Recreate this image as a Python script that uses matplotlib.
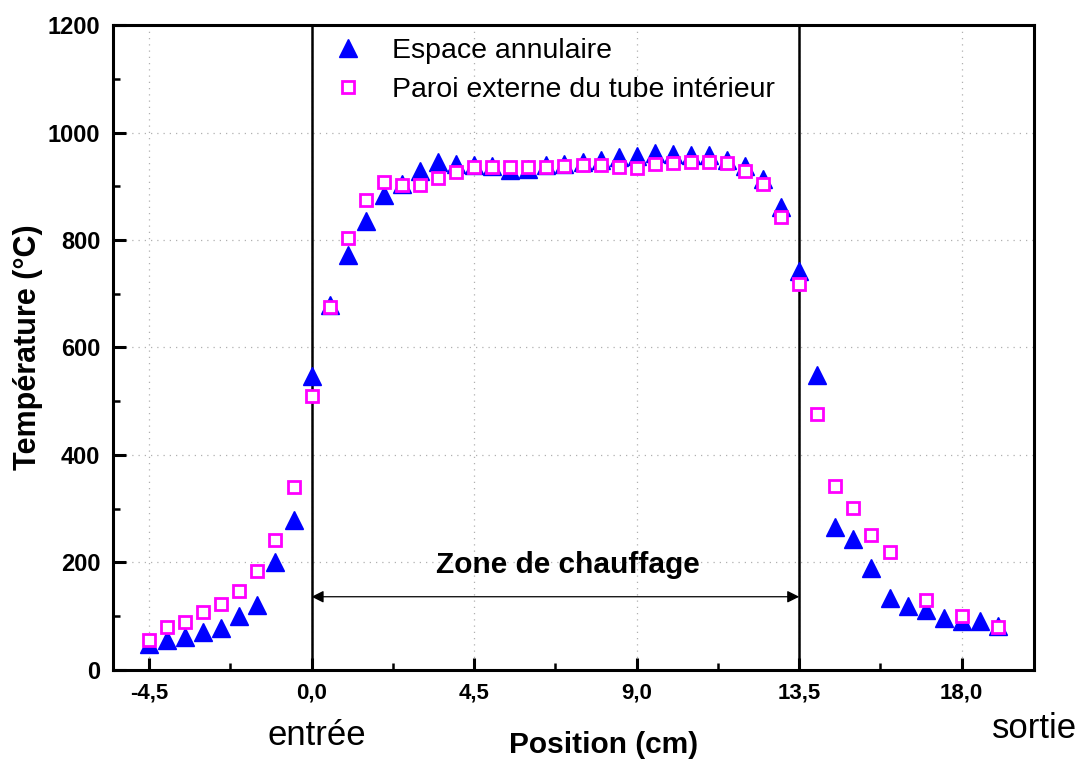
import numpy as np
import matplotlib.pyplot as plt
from matplotlib.ticker import MultipleLocator, FuncFormatter

plt.rcParams['font.family'] = ['Liberation Sans', 'DejaVu Sans']

# Espace annulaire (triangles)
pos_annulaire = [-4.5, -4.0, -3.5, -3.0, -2.5, -2.0, -1.5, -1.0, -0.5, 0.0,
                 0.5, 1.0, 1.5, 2.0, 2.5, 3.0, 3.5, 4.0, 4.5, 5.0, 5.5, 6.0,
                 6.5, 7.0, 7.5, 8.0, 8.5, 9.0, 9.5, 10.0, 10.5, 11.0, 11.5,
                 12.0, 12.5, 13.0, 13.5, 14.0, 14.5, 15.0, 15.5, 16.0, 16.5,
                 17.0, 17.5, 18.0, 18.5, 19.0]
temp_annulaire = [48, 55, 61, 70, 77, 101, 121, 200, 278, 547,
                  679, 773, 836, 883, 904, 928, 946, 941, 939, 937, 930, 932,
                  939, 942, 946, 949, 954, 956, 962, 961, 959, 958, 949,
                  938, 914, 862, 743, 548, 266, 243, 189, 133, 118,
                  112, 96, 90, 90, 81]

# Paroi externe du tube interieur (carres)
pos_paroi = [-4.5, -4.0, -3.5, -3.0, -2.5, -2.0, -1.5, -1.0, -0.5, 0.0,
             0.5, 1.0, 1.5, 2.0, 2.5, 3.0, 3.5, 4.0, 4.5, 5.0, 5.5, 6.0,
             6.5, 7.0, 7.5, 8.0, 8.5, 9.0, 9.5, 10.0, 10.5, 11.0, 11.5,
             12.0, 12.5, 13.0, 13.5, 14.0, 14.5, 15.0, 15.5, 16.0,
             17.0, 18.0, 19.0]
temp_paroi = [56, 79, 89, 107, 122, 146, 183, 241, 341, 510,
              675, 804, 874, 908, 903, 902, 915, 926, 936, 936, 936, 936,
              936, 938, 939, 939, 936, 935, 942, 944, 946, 946, 944,
              929, 905, 842, 719, 476, 343, 301, 251, 220,
              130, 101, 79]

zone_start, zone_end = 0.0, 13.5

fig = plt.figure(figsize=(10.81, 7.62), dpi=100)
ax = fig.add_axes([0.1045, 0.121, 0.852, 0.846])

ax.plot(pos_annulaire, temp_annulaire, linestyle='none', marker='^',
        markersize=13.5, color='#0000ff', label='Espace annulaire', zorder=3)
ax.plot(pos_paroi, temp_paroi, linestyle='none', marker='s',
        markersize=9, markerfacecolor='white', markeredgecolor='#ff00ff',
        markeredgewidth=2, label='Paroi externe du tube intérieur', zorder=4)

# limites de la zone de chauffage
ax.axvline(zone_start, color='black', lw=1.8, zorder=2)
ax.axvline(zone_end, color='black', lw=1.8, zorder=2)
ax.annotate('', xy=(zone_start, 136), xytext=(zone_end, 136),
            arrowprops=dict(arrowstyle='<|-|>', color='black', lw=0.9,
                            mutation_scale=18, shrinkA=0, shrinkB=0))
ax.text(7.1, 195, 'Zone de chauffage', ha='center', va='center',
        fontsize=21.5, fontweight='bold')

ax.set_xlim(-5.5, 20)
ax.set_ylim(0, 1200)
ax.xaxis.set_major_locator(MultipleLocator(4.5))
ax.xaxis.set_minor_locator(MultipleLocator(2.25))
ax.yaxis.set_major_locator(MultipleLocator(200))
ax.yaxis.set_minor_locator(MultipleLocator(100))
ax.xaxis.set_major_formatter(FuncFormatter(lambda v, p: f'{v:.1f}'.replace('.', ',')))

ax.grid(True, which='major', linestyle=(0, (1, 4)), color='#b0b0b0', lw=0.9)
ax.tick_params(which='major', direction='in', length=9, width=2.2, pad=9)
ax.tick_params(axis='x', labelsize=16)
ax.tick_params(axis='y', labelsize=17)
ax.tick_params(which='minor', direction='in', length=5, width=1.8)
for lab in ax.get_xticklabels() + ax.get_yticklabels():
    lab.set_fontweight('bold')
for sp in ax.spines.values():
    sp.set_linewidth(2.2)

ax.set_xlabel('Position (cm)', fontsize=21.5, fontweight='bold')
ax.xaxis.label.set_va('center')
ax.xaxis.set_label_coords(0.533, -0.116)
ax.set_ylabel('Température (°C)', fontsize=22, fontweight='bold')
ax.yaxis.label.set_va('center')
ax.yaxis.set_label_coords(-0.092, 0.5)

fig.text(0.293, 0.035, 'entrée', fontsize=25, ha='center', va='center')
fig.text(0.957, 0.044, 'sortie', fontsize=25, ha='center', va='center')

ax.legend(loc='upper left', bbox_to_anchor=(0.2394, 0.98), frameon=False,
          fontsize=20.5, handlelength=1.0, handletextpad=1.05,
          labelspacing=0.45, borderaxespad=0, borderpad=0)

fig.savefig('out.png', dpi=100)
